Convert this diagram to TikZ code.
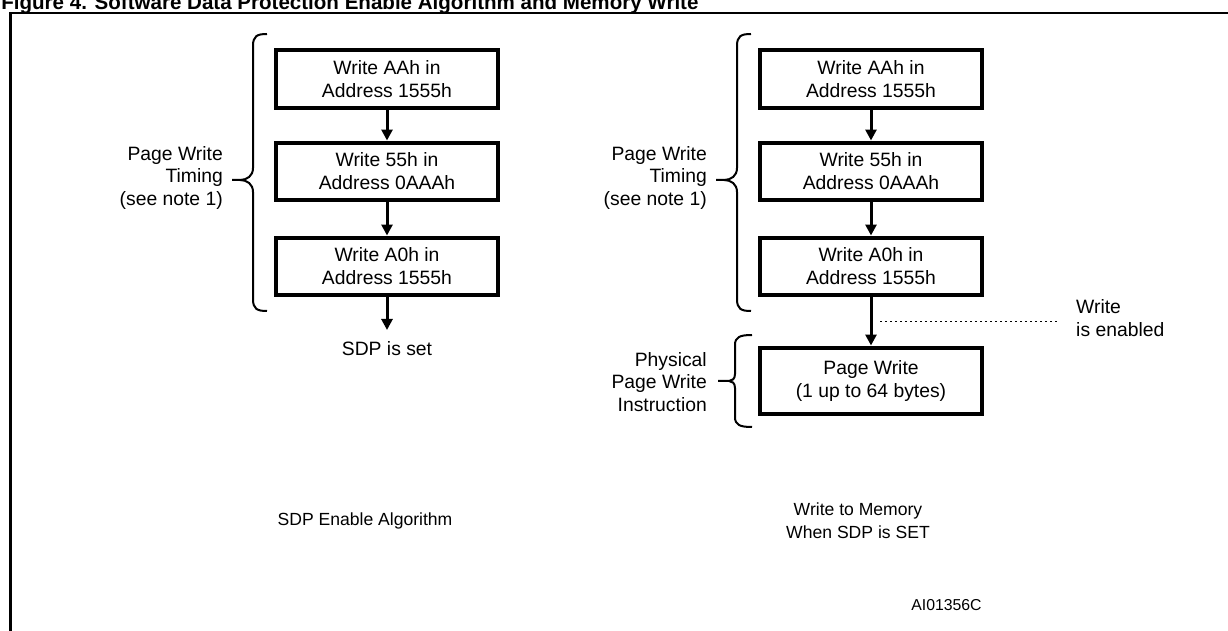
\documentclass[tikz,border=0pt]{standalone}
\usepackage{fontspec}
\setmainfont{Liberation Sans}
\usetikzlibrary{arrows.meta,calc}

\tikzset{
  stepbox/.style={draw, line width=0.08cm, minimum width=4.44cm, minimum height=1.16cm,
    align=center, inner sep=0pt, font=\fontsize{11}{13}\selectfont},
  flow/.style={line width=0.06cm, -{Triangle[length=0.22cm,width=0.22cm]}},
  lbl/.style={align=center, font=\fontsize{11}{13}\selectfont},
  caption/.style={align=center, font=\fontsize{10}{13}\selectfont},
  brc/.style={line width=0.04cm},
  dotline/.style={dotted, line width=0.03cm},
}

\begin{document}
\begin{tikzpicture}[x=0.02cm, y=-0.02cm]
\useasboundingbox (0,0) rectangle (1228,631);

% title and frame
\node[font=\fontsize{11.7}{14}\selectfont\bfseries, anchor=base west, inner sep=0pt] (title) at (1,9.3)
  {Figure 4. Software Data Protection Enable Algorithm and Memory Write};
\draw[line width=0.05cm] (10.5,660) |- (1260,13);

% SDP enable algorithm
\node[stepbox] (a1) at (387,79) {Write AAh in\\Address 1555h};
\node[stepbox] (a2) at (387,171.5) {Write 55h in\\Address 0AAAh};
\node[stepbox] (a3) at (387,266.5) {Write A0h in\\Address 1555h};
\node[lbl, anchor=north, inner ysep=0.22cm] (sdp) at (387,330) {SDP is set};
\draw[flow] (a1) -- (a2);
\draw[flow] (a2) -- (a3);
\draw[flow] (a3) -- (sdp.north);

% write to memory
\node[stepbox] (b1) at (871,79) {Write AAh in\\Address 1555h};
\node[stepbox] (b2) at (871,171.5) {Write 55h in\\Address 0AAAh};
\node[stepbox] (b3) at (871,266.5) {Write A0h in\\Address 1555h};
\node[stepbox, minimum height=1.34cm] (b4) at (871,381) {Page Write\\(1 up to 64 bytes)};
\draw[flow] (b1) -- (b2);
\draw[flow] (b2) -- (b3);
\draw[flow] (b3) -- (b4);

% page write timing braces
\foreach \dx in {0,484} {
  \draw[brc, shift={(\dx,0)}] (267,34) .. controls (257,34) and (253,36) .. (253,46) -- (253,168)
    .. controls (253,176) and (247,180) .. (240,180) .. controls (247,180) and (253,184) .. (253,192)
    -- (253,299) .. controls (253,309) and (257,311) .. (267,311)
    (232,180) -- (240,180);
  \node[lbl, align=right, anchor=east] (tm\dx) at (229+\dx,178) {Page Write\\Timing\\(see note 1)};
}

% physical page write brace
\draw[brc] (752,335) .. controls (740,335) and (735,337) .. (735,345) -- (735,374)
  .. controls (735,379) and (732,381) .. (729,381) .. controls (732,381) and (735,383) .. (735,388)
  -- (735,417) .. controls (735,425) and (740,427) .. (752,427)
  (718,381) -- (729,381);
\node[lbl, align=right, anchor=east] (pw) at (713,382) {Physical\\Page Write\\Instruction};

% write enabled marker
\node[lbl, align=left, anchor=west] (en) at (1070,318) {Write\\is enabled};
\coordinate (gap) at ($(b3.south)!0.5!(b4.north)$);
\draw[dotline, shorten >=0.26cm] ([xshift=0.18cm]gap) -- (en.west |- gap);

% captions
\node[caption] (alg1) at (365,521) {SDP Enable Algorithm};
\node[caption] (alg2) at (858,521) {Write to Memory\\When SDP is SET};
\node[font=\fontsize{9}{11}\selectfont, anchor=east, inner sep=0pt] (id) at (982,605.5) {AI01356C};
\end{tikzpicture}
\end{document}
